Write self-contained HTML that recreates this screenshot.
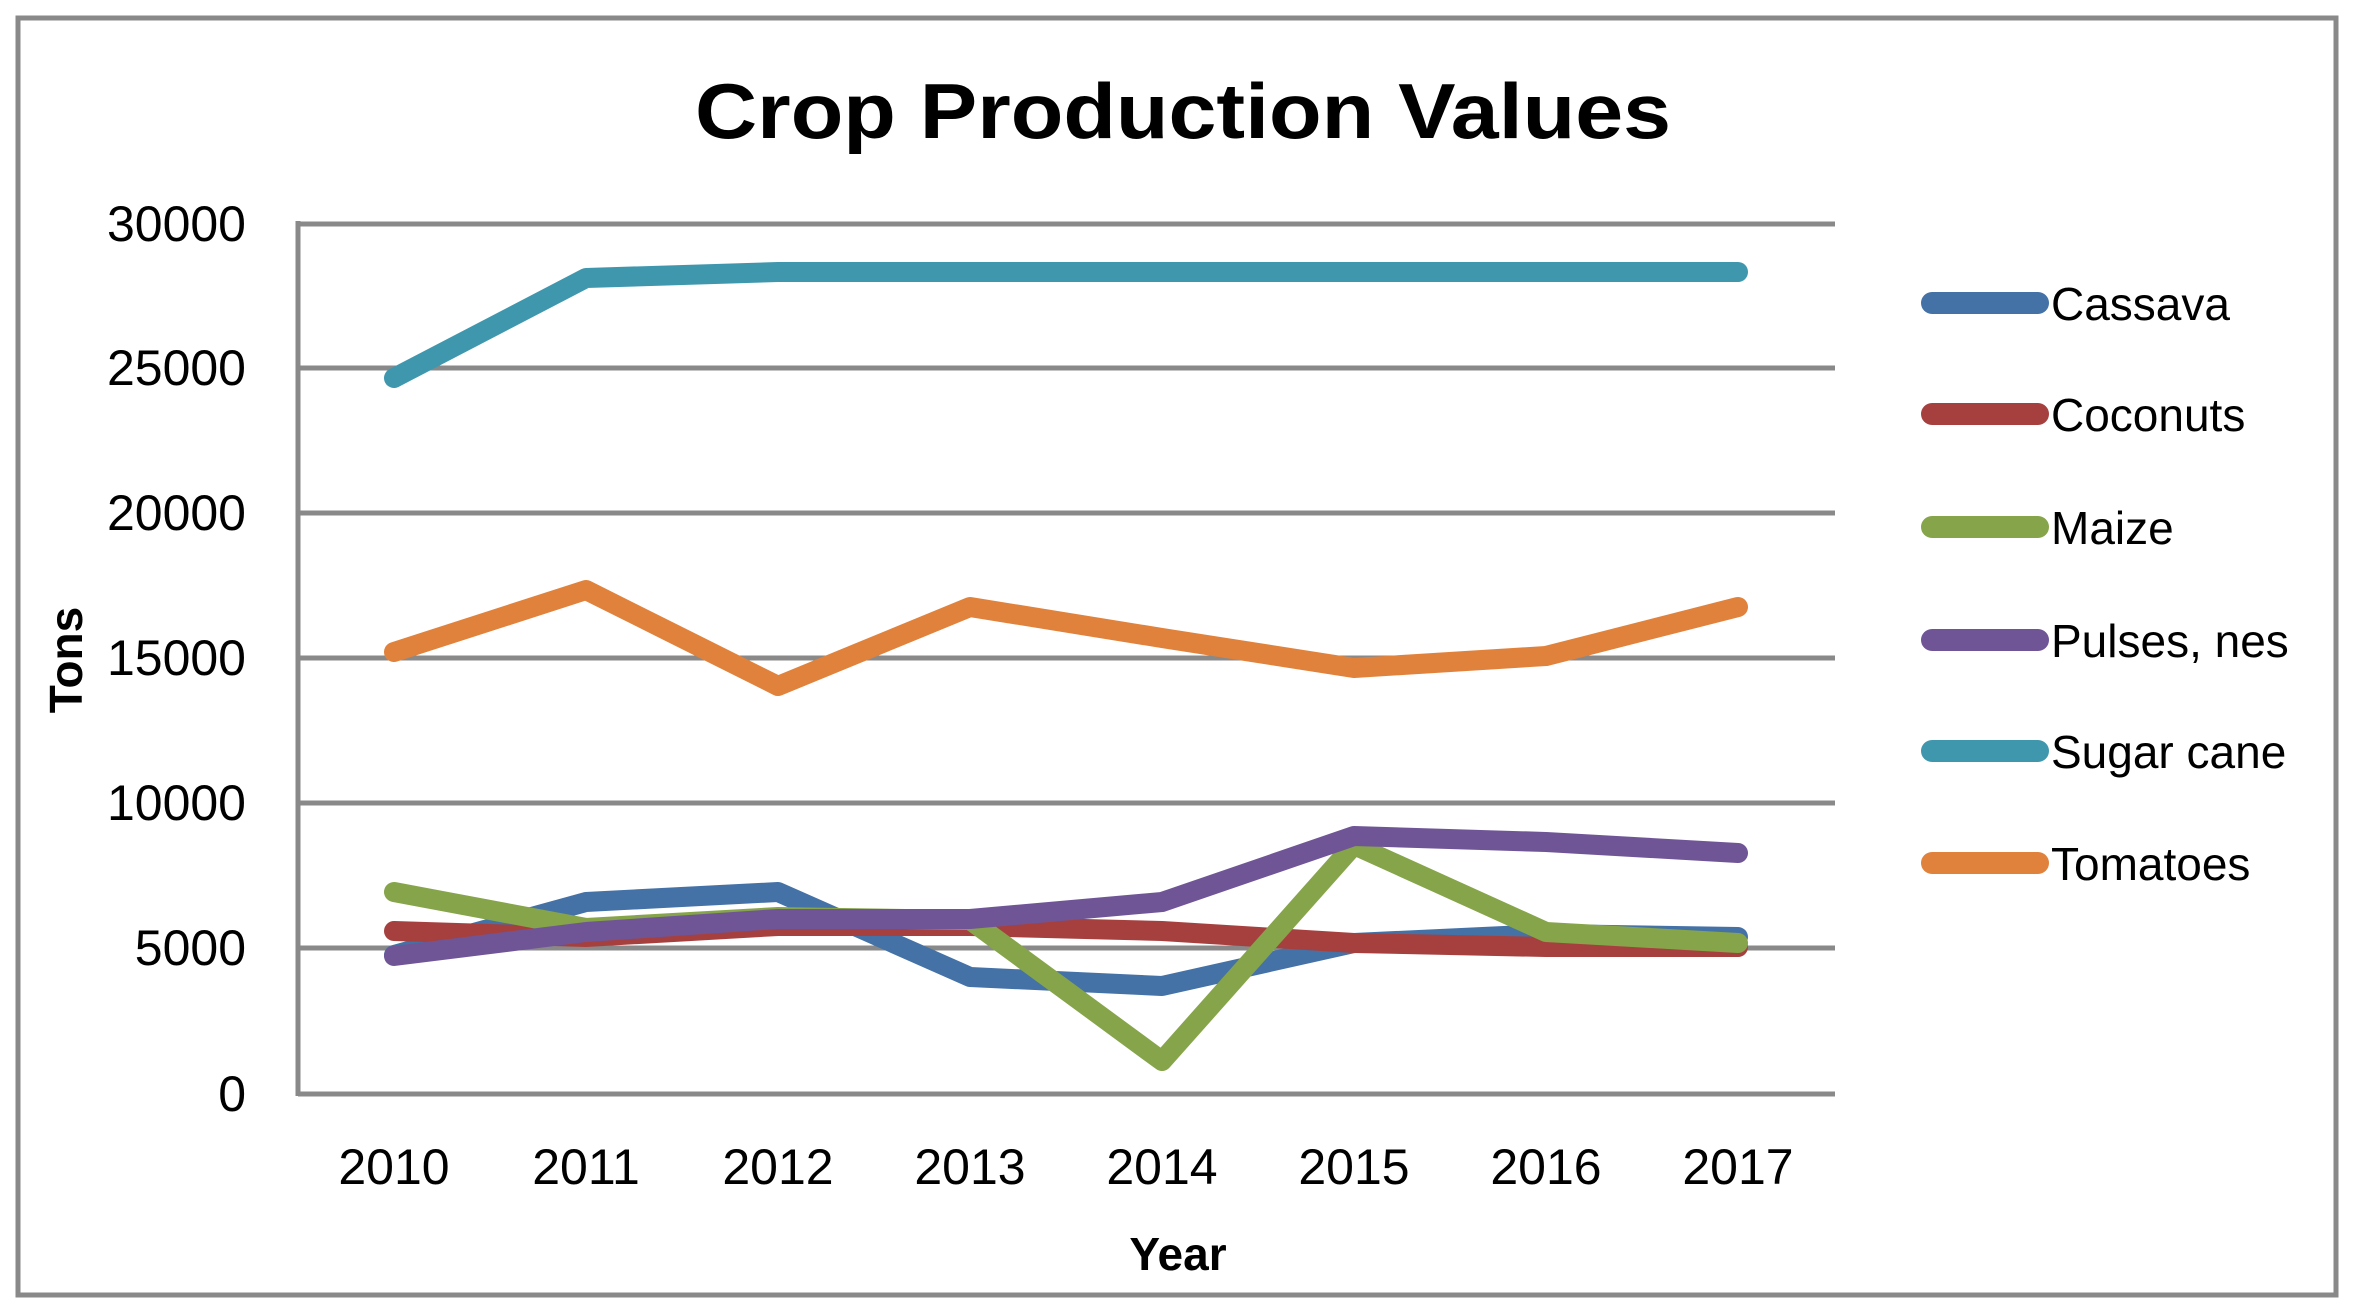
<!DOCTYPE html>
<html><head><meta charset="utf-8"><style>html,body{margin:0;padding:0;background:#fff}svg{display:block}</style></head>
<body>
<svg width="2354" height="1311" viewBox="0 0 2354 1311" xmlns="http://www.w3.org/2000/svg" font-family="'Liberation Sans', sans-serif">
<rect x="0" y="0" width="2354" height="1311" fill="#fff"/>
<rect x="18" y="18" width="2318" height="1277" fill="none" stroke="#898989" stroke-width="5"/>
<text x="1183" y="138" font-size="78" font-weight="bold" text-anchor="middle" textLength="976" lengthAdjust="spacingAndGlyphs">Crop Production Values</text>
<g stroke="#898989" stroke-width="5">
<line x1="298" y1="224" x2="1835" y2="224"/>
<line x1="298" y1="368" x2="1835" y2="368"/>
<line x1="298" y1="513" x2="1835" y2="513"/>
<line x1="298" y1="658" x2="1835" y2="658"/>
<line x1="298" y1="803" x2="1835" y2="803"/>
<line x1="298" y1="948" x2="1835" y2="948"/>
<line x1="298" y1="1094" x2="1835" y2="1094"/>
<line x1="298" y1="221" x2="298" y2="1096"/>
</g>
<g font-size="50" text-anchor="end">
<text x="246" y="241">30000</text>
<text x="246" y="385">25000</text>
<text x="246" y="530">20000</text>
<text x="246" y="675">15000</text>
<text x="246" y="820">10000</text>
<text x="246" y="965">5000</text>
<text x="246" y="1111">0</text>
</g>
<g font-size="50" text-anchor="middle">
<text x="394" y="1184">2010</text><text x="586" y="1184">2011</text><text x="778" y="1184">2012</text><text x="970" y="1184">2013</text>
<text x="1162" y="1184">2014</text><text x="1354" y="1184">2015</text><text x="1546" y="1184">2016</text><text x="1738" y="1184">2017</text>
</g>
<text x="1178" y="1270" font-size="46" font-weight="bold" text-anchor="middle">Year</text>
<text transform="translate(82,660) rotate(-90)" font-size="46" font-weight="bold" text-anchor="middle">Tons</text>
<g fill="none" stroke-width="20" stroke-linecap="round" stroke-linejoin="round">
<polyline stroke="#4471a6" points="394,955 586,902 778,892 970,977 1162,986 1354,943 1546,934 1738,937"/>
<polyline stroke="#a5403f" points="394,931 586,937 778,926 970,926 1162,931 1354,943 1546,947 1738,947"/>
<polyline stroke="#86a44a" points="394,892 586,928 778,917 970,920 1162,1061 1354,845 1546,932 1738,943"/>
<polyline stroke="#6f5596" points="394,956 586,932 778,919 970,919 1162,902 1354,836 1546,842 1738,853"/>
<polyline stroke="#3f97ae" points="394,378 586,278 778,272 970,272 1162,272 1354,272 1546,272 1738,272"/>
<polyline stroke="#e0823c" points="394,652 586,590 778,686 970,607 1162,638 1354,668 1546,656 1738,607"/>
</g>
<g stroke-width="22" stroke-linecap="round">
<line x1="1932" y1="303" x2="2038" y2="303" stroke="#4471a6"/>
<line x1="1932" y1="414" x2="2038" y2="414" stroke="#a5403f"/>
<line x1="1932" y1="527" x2="2038" y2="527" stroke="#86a44a"/>
<line x1="1932" y1="640" x2="2038" y2="640" stroke="#6f5596"/>
<line x1="1932" y1="751" x2="2038" y2="751" stroke="#3f97ae"/>
<line x1="1932" y1="863" x2="2038" y2="863" stroke="#e0823c"/>
</g>
<g font-size="46">
<text x="2051" y="320">Cassava</text>
<text x="2051" y="431">Coconuts</text>
<text x="2051" y="544">Maize</text>
<text x="2051" y="657">Pulses, nes</text>
<text x="2051" y="768">Sugar cane</text>
<text x="2051" y="880">Tomatoes</text>
</g>
</svg>
</body></html>
